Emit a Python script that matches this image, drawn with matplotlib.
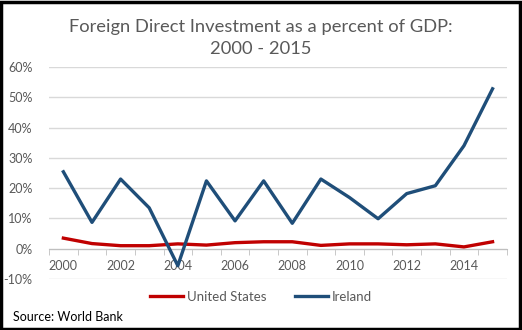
import matplotlib.pyplot as plt
from matplotlib.patches import Rectangle
from matplotlib.ticker import FuncFormatter, MultipleLocator

years = list(range(2000, 2016))
us_fdi = [3.5, 1.7, 1.0, 1.0, 1.6, 1.2, 2.0, 2.3, 2.3, 1.1, 1.6, 1.6, 1.3, 1.6, 0.6, 2.3]
ireland_fdi = [25.4, 8.7, 23.0, 13.5, -5.6, 22.4, 9.2, 22.4, 8.4, 23.0, 16.9, 9.9, 18.2, 20.8, 34.0, 52.8]

plt.rcParams['font.family'] = ['Lato', 'DejaVu Sans']
grey = '#595959'

fig = plt.figure(figsize=(5.22, 3.3), dpi=100)
ax = fig.add_axes([0.094, 0.1545, 0.877, 0.6425])

ax.plot(years, us_fdi, color='#C00000', lw=2.4, label='United States', zorder=3)
ax.plot(years, ireland_fdi, color='#1F4E79', lw=2.4, label='Ireland', zorder=4)

ax.set_xlim(1999.5, 2015.5)
ax.set_ylim(-10, 60)
ax.yaxis.set_major_locator(MultipleLocator(10))
ax.yaxis.set_major_formatter(FuncFormatter(lambda v, p: '%d%%' % v))
ax.grid(axis='y', color='#D9D9D9', lw=1)
ax.set_axisbelow(True)

for s in ['top', 'right', 'left']:
    ax.spines[s].set_visible(False)
ax.spines['bottom'].set_position(('data', 0))
ax.spines['bottom'].set_color('#BFBFBF')
ax.spines['bottom'].set_zorder(2)

ax.set_xticks(years[::2])
ax.set_xticks([y - 0.5 for y in years] + [2015.5], minor=True)
ax.tick_params(axis='x', which='major', length=0, pad=8, labelsize=9, labelcolor=grey)
ax.tick_params(axis='x', which='minor', length=4, color='#BFBFBF', direction='out')
ax.tick_params(axis='y', length=0, pad=12, labelsize=9, labelcolor=grey)

fig.text(0.5, 0.885, 'Foreign Direct Investment as a percent of GDP:\n2000 - 2015',
         ha='center', va='center', fontsize=13.2, color=grey, linespacing=1.5)

fig.legend(loc='center', bbox_to_anchor=(0.5, 0.1), ncol=2, frameon=False,
           fontsize=9.5, labelcolor=grey, handlelength=2.5, handletextpad=0.3,
           columnspacing=2.2)

fig.text(0.025, 0.04, 'Source: World Bank', ha='left', va='center', fontsize=9, color='black')

fig.patches.append(Rectangle((0.002, 0.003), 0.995, 0.992, transform=fig.transFigure,
                             fill=False, edgecolor='black', lw=2.5))

fig.savefig('out.png', dpi=100)
